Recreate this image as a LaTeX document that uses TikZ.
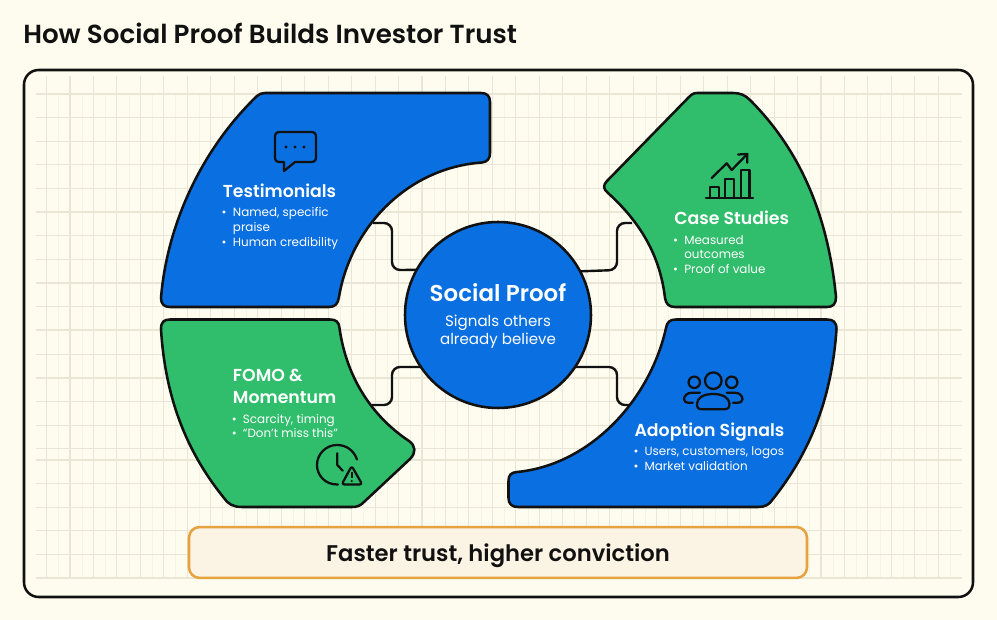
\documentclass[tikz,border=0pt]{standalone}
\usepackage{fontspec}
\setmainfont{Poppins}
\newfontfamily\semi{Poppins SemiBold}
\newfontfamily\regf{Poppins}
\definecolor{paper}{HTML}{FDFCEE}
\definecolor{gridc}{HTML}{E9E6D6}
\definecolor{gridm}{HTML}{F5F3E4}
\definecolor{ink}{HTML}{111111}
\definecolor{bluef}{HTML}{0A6FE0}
\definecolor{greenf}{HTML}{30BE6C}
\definecolor{orangel}{HTML}{E5A23F}
\definecolor{orangef}{HTML}{FBF3E3}
\tikzset{
  blob/.style={draw=ink,line width=1.9pt,line join=round},
  icon/.style={draw=ink,line width=1.7pt,line cap=round,line join=round},
  wire/.style={draw=ink,line width=1.8pt,rounded corners=6pt},
  head/.style={anchor=base west,inner sep=0pt,text=white,font=\semi\fontsize{13}{15}\selectfont},
  item/.style={anchor=base west,inner sep=0pt,text=white,font=\regf\fontsize{8.95}{10}\selectfont},
  dotb/.style={anchor=base,inner sep=0pt,text=white,font=\regf\fontsize{8.95}{10}\selectfont},
}
\begin{document}
\begin{tikzpicture}[x=0.75pt,y=-0.75pt]
\useasboundingbox (0,0) rectangle (997,620);
\fill[paper] (0,0) rectangle (997,620);
% grid
\foreach \k in {0,...,38}{
  \draw[gridc,line width=0.8pt] ({46.5+23.47*\k},76) -- ({46.5+23.47*\k},578);
  \draw[gridm,line width=0.6pt] ({58.5+23.47*\k},95) -- ({58.5+23.47*\k},578);
}
\foreach \y in {94,117.6,141.2,164.8,188.4,212,235.6,259.2,283,306.7,330,354.7,378,401.7,425.3,448.5,460,483.6,507.2,530.8,554.4,578}{
  \draw[gridc,line width=0.8pt] (36,\y) -- (962,\y);
}
% frame
\node[draw=none,inner sep=0pt,anchor=base west,font=\semi\fontsize{19.6}{22}\selectfont,text=ink] (title) at (23,44) {How Social Proof Builds Investor Trust};
\draw[ink,line width=1.9pt,rounded corners=11pt] (24,70) rectangle (973,597);
% hub
\node[circle,draw=ink,line width=1.9pt,fill=bluef,minimum size=139.5pt,inner sep=0pt,outer sep=0pt] (hub) at (498,315) {};
% connector ends
\coordinate (tl) at (373,223);
\coordinate (tr) at (632,223);
\coordinate (bl) at (372,405);
\coordinate (br) at (633,405);
\draw[wire] (tl) -- (392,223) -- (392,270) -- (hub.151.1);
\draw[wire] (tr) -- (617,223) -- (617,270) -- (hub.28.9);
\draw[wire] (bl) -- (392,405) -- (392,367) -- (hub.214);
\draw[wire] (br) -- (617,405) -- (617,367) -- (hub.-34);
% Testimonials
\draw[blob,fill=bluef] (265,93) -- (481,93) .. controls (487,93) and (490,96) .. (490,102) -- (490,153)
  .. controls (490,159) and (487,162) .. (482,162.5)
  .. controls (405,168) and (350,230) .. (339,297)
  .. controls (338,304) and (335,307) .. (329,307) -- (170,307)
  .. controls (164,307) and (161,304) .. (161,298)
  .. controls (167,225) and (201,150) .. (257,96)
  .. controls (259,94) and (262,93) .. (265,93) -- cycle;
% Case Studies
\draw[blob,fill=greenf] (697,93) -- (733,93) .. controls (740,93) and (745,95) .. (750,100)
  .. controls (800,150) and (828,215) .. (836,297)
  .. controls (836,304) and (833,307) .. (827,307) -- (675,307)
  .. controls (669,307) and (666,304) .. (665,298)
  .. controls (660,255) and (640,222) .. (608,193)
  .. controls (603,189) and (603,185) .. (607,181)
  -- (688,98) .. controls (691,95) and (693,93) .. (697,93) -- cycle;
% FOMO
\draw[blob,fill=greenf] (170,319.5) -- (330,319.5) .. controls (336,319.5) and (339,322) .. (339.5,328)
  .. controls (346,375) and (370,415) .. (409,441)
  .. controls (416,446) and (416,453) .. (410,459)
  -- (364,502) .. controls (360,506) and (357,507) .. (352,507) -- (242,507)
  .. controls (233,507) and (228,504) .. (224,498)
  .. controls (185,450) and (165,395) .. (161,329)
  .. controls (161,322) and (164,319.5) .. (170,319.5) -- cycle;
% Adoption
\draw[blob,fill=bluef] (676,319.5) -- (827,319.5) .. controls (833,319.5) and (836.5,322) .. (836.5,329)
  .. controls (832,395) and (812,450) .. (773,499)
  .. controls (769,505) and (765,507) .. (758,507) -- (518,507)
  .. controls (512,507) and (508.5,504) .. (508.5,498) -- (508.5,481)
  .. controls (508.5,475) and (511,472.5) .. (517,472)
  .. controls (590,465) and (650,400) .. (666,328)
  .. controls (667,322) and (670,319.5) .. (676,319.5) -- cycle;
% hub text
\node[anchor=base,inner sep=0pt,text=white,font=\semi\fontsize{17.2}{18}\selectfont] (hubt) at (498,301.7) {Social Proof};
\node[anchor=base,inner sep=0pt,text=white,font=\regf\fontsize{11.3}{12}\selectfont] (hubs1) at (498,326.7) {Signals others};
\node[anchor=base,inner sep=0pt,text=white,font=\regf\fontsize{11.3}{12}\selectfont] (hubs2) at (498,345) {already believe};
% testimonials text
\node[head] (t0) at (222.7,197.3) {Testimonials};
\node[dotb] (t1b) at (224,217) {•};
\node[item] (t1) at (232.7,217) {Named, specific};
\node[item] (t2) at (232.7,231.7) {praise};
\node[dotb] (t3b) at (224,246.7) {•};
\node[item] (t3) at (232.7,246.7) {Human credibility};
% case text
\node[head] (c0) at (674,225) {Case Studies};
\node[dotb] (c1b) at (675.7,244.3) {•};
\node[item] (c1) at (684,244.3) {Measured};
\node[item] (c2) at (684,259) {outcomes};
\node[dotb] (c3b) at (675.7,274) {•};
\node[item] (c3) at (684,274) {Proof of value};
% fomo text
\node[head] (f0) at (232.7,381.7) {FOMO \&};
\node[head] (f00) at (232.7,403.3) {Momentum};
\node[dotb] (f1b) at (234.3,423.3) {•};
\node[item] (f1) at (242.7,423.3) {Scarcity, timing};
\node[dotb] (f2b) at (234.3,437.7) {•};
\node[item] (f2) at (242.7,437.7) {“Don’t miss this”};
% adoption text
\node[head] (a0) at (634.3,436) {Adoption Signals};
\node[dotb] (a1b) at (636,455.3) {•};
\node[item] (a1) at (644.3,455.3) {Users, customers, logos};
\node[dotb] (a2b) at (636,470) {•};
\node[item] (a2) at (644.3,470) {Market validation};
% chat icon
\draw[icon] (280,132) -- (311,132) .. controls (314.5,132) and (316,133.5) .. (316,137) -- (316,157) .. controls (316,160.5) and (314.5,162) .. (311,162) -- (295,162) -- (284,171) -- (284,162) -- (280,162) .. controls (276.5,162) and (275,160.5) .. (275,157) -- (275,137) .. controls (275,133.5) and (276.5,132) .. (280,132) -- cycle;
\fill[ink] (286,147) circle (1.6) (295,147) circle (1.6) (304,147) circle (1.6);
% chart icon
\draw[icon] (706,198.3) -- (753,198.3);
\draw[icon] (710,198) -- (710,187) -- (719,187) -- (719,198);
\draw[icon] (725,198) -- (725,179) -- (734,179) -- (734,198);
\draw[icon] (741,198) -- (741,170) -- (749.5,170) -- (749.5,198);
\draw[icon] (711.7,178) -- (726.7,163.3) -- (731.7,170) -- (747.3,154);
\draw[icon] (738,154.5) -- (747.3,154) -- (747.3,162.7);
% clock icon
\draw[icon] (338,484.5) .. controls (325,485) and (317,475) .. (317,465) .. controls (317,454) and (326,445) .. (337,445) .. controls (347,445) and (354,451) .. (357,459.5);
\draw[icon] (337.3,453.3) -- (337.3,465) -- (342.7,470.7);
\draw[icon,rounded corners=2pt] (351.7,466) -- (362.3,484.5) -- (341.7,484.5) -- cycle;
\draw[ink,line width=1.2pt] (351.7,472.5) -- (351.7,478);
\fill[ink] (351.7,481) circle (1.1);
% people icon
\draw[icon] (713.3,380.7) circle (8.3);
\draw[icon] (694.3,382.3) circle (5.7);
\draw[icon] (731.7,382.3) circle (5.7);
\draw[icon] (702,409.3) -- (724,409.3) .. controls (728,409.3) and (729.5,407.5) .. (729.5,404) .. controls (729.5,398) and (723,394) .. (713.3,394) .. controls (703,394) and (697,398) .. (697,404) .. controls (697,407.5) and (698,409.3) .. (702,409.3) -- cycle;
\draw[icon] (700,392.7) -- (692,392.7) .. controls (687,392.7) and (684,396) .. (684,399.5) .. controls (684,402) and (685.5,403) .. (692.7,402.7);
\draw[icon] (726.7,392.7) -- (734.7,392.7) .. controls (739.7,392.7) and (742.5,396) .. (742.5,399.5) .. controls (742.5,402) and (741,403) .. (733,402.7);
% bar
\node[draw=orangel,fill=orangef,line width=1.9pt,rounded corners=8pt,minimum width=463.5pt,minimum height=38.2pt,inner sep=0pt] (bar) at (498,552.5) {};
\node[anchor=base,inner sep=0pt,font=\semi\fontsize{17}{20}\selectfont,text=ink] (barlabel) at (498,561.5) {Faster trust, higher conviction};
\end{tikzpicture}
\end{document}
